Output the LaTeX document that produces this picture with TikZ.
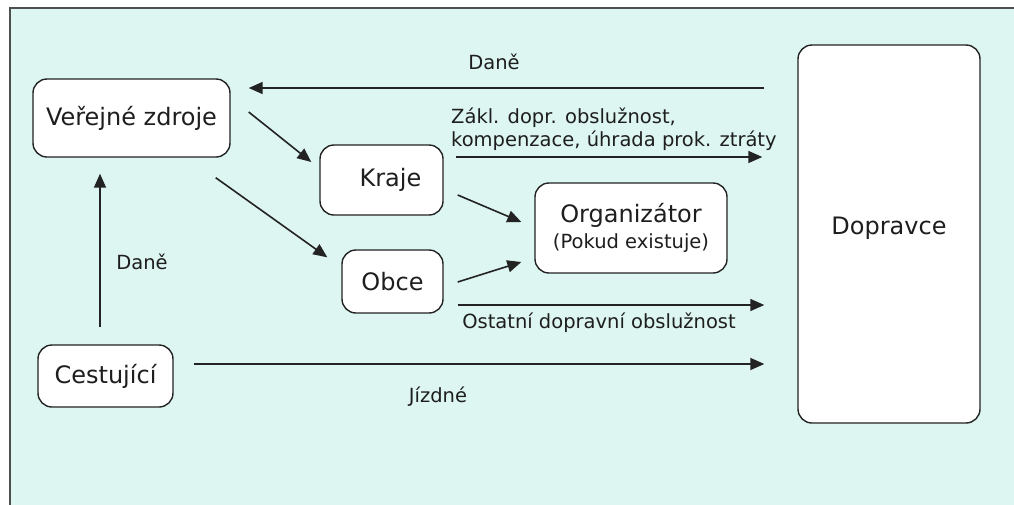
\documentclass[tikz,border=0pt]{standalone}
\usepackage{fontspec}
\setmainfont{DejaVu Sans}
\usetikzlibrary{arrows.meta,calc}
\definecolor{bgc}{RGB}{221,246,241}
\definecolor{linec}{RGB}{35,35,35}
\definecolor{txtc}{RGB}{30,30,30}
\tikzset{
  box/.style={draw=linec, line width=1.4pt, fill=white, rounded corners=14pt, inner sep=0pt, text=txtc, font=\fontsize{24}{28}\selectfont},
  arr/.style={draw=linec, line width=1.6pt, -{Triangle[length=14pt,width=12pt]}},
  lbl/.style={text=txtc, inner sep=0pt, font=\fontsize{19.5}{23}\selectfont},
}
\begin{document}
\begin{tikzpicture}[x=1pt,y=-1pt]
\useasboundingbox (0,0) rectangle (1014,504);
\fill[white] (0,0) rectangle (1014,504);
\begin{scope}
\clip (0,0) rectangle (1014,504);
\filldraw[fill=bgc, draw=linec!80, line width=1.3pt] (10,8) rectangle (1030,520);
\end{scope}

\node[box, minimum width=197pt, minimum height=78pt] (vz) at (131.5,118) {Veřejné zdroje};
\node[box, minimum width=123pt, minimum height=70pt] (kraje) at (381.5,180) {\hspace*{18pt}Kraje};
\node[box, minimum width=101pt, minimum height=63pt] (obce) at (392.5,281.5) {Obce};
\node[box, minimum width=135pt, minimum height=62pt] (cest) at (105.5,376) {Cestující};
\node[box, minimum width=192pt, minimum height=90pt, align=center] (org) at (631,228)
  {Organizátor\\[-2pt]{\fontsize{19.5}{23}\selectfont(Pokud existuje)}};
\node[box, minimum width=182pt, minimum height=378pt] (dop) at (889,234) {\raisebox{17pt}{Dopravce}};

% connectors
\draw[arr, shorten <=33pt, shorten >=18pt] (dop.west |- 0,88) -- (vz.east |- 0,88);
\draw[arr] ($(vz.east)+(18,-6)$) -- ($(kraje.west)+(-8,-18)$);
\draw[arr] ($(vz.south east)+(-15,20)$) -- ($(obce.north west)+(-14,8)$);
\draw[arr] ($(kraje.east)+(14,15)$) -- ($(org.west)+(-13,-6)$);
\draw[arr] ($(obce.east)+(14,0.5)$) -- ($(org.west)+(-13,34)$);
\draw[arr, shorten <=12pt, shorten >=35pt] (kraje.east |- 0,157) -- (dop.west |- 0,157);
\draw[arr, shorten <=14pt, shorten >=33pt] (obce.east |- 0,305) -- (dop.west |- 0,305);
\draw[arr, shorten <=20pt, shorten >=33pt] (cest.east |- 0,364) -- (dop.west |- 0,364);
\draw[arr] ($(cest.north)+(-5.5,-17)$) -- ($(vz.south)+(-31.5,16)$);

% labels
\node[lbl] (ldt) at (494,62) {Daně};
\node[lbl, anchor=west, align=left] (lzk) at (451,129) {Zákl. dopr. obslužnost,\\kompenzace, úhrada prok. ztráty};
\node[lbl] (lost) at (599,323) {Ostatní dopravní obslužnost};
\node[lbl] (ljiz) at (438,397) {Jízdné};
\node[lbl] (ldv) at (142,262) {Daně};
\end{tikzpicture}
\end{document}
